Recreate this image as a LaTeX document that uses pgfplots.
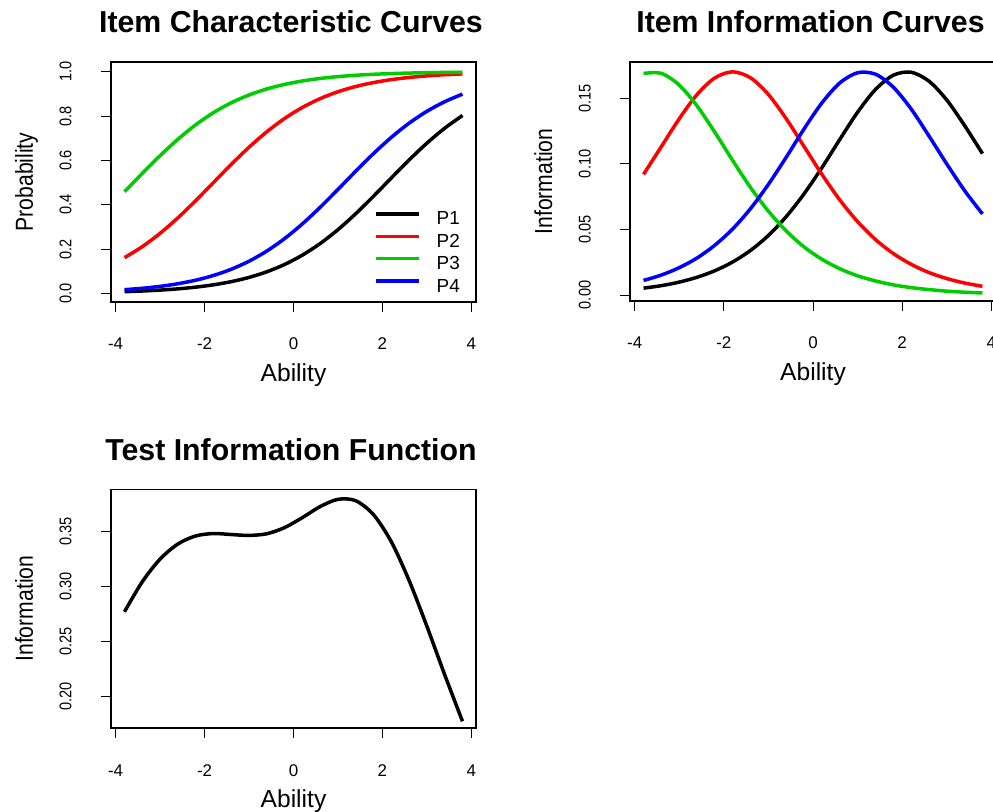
\documentclass[border=0pt]{standalone}
\usepackage{fontspec}
\setmainfont{Liberation Sans}
\usepackage{graphicx}
\usepackage{pgfplots}
\pgfplotsset{compat=1.18}
\usepackage{pgfplotstable}
\definecolor{rgreen}{RGB}{0,205,0}
\definecolor{rred}{RGB}{255,0,0}
\definecolor{rblue}{RGB}{0,0,255}

\pgfplotstableread{
t p1 p2 p3 p4
-3.8 0.0076 0.1611 0.4588 0.0166
-3.4 0.0106 0.2108 0.5412 0.0229
-3.0 0.0147 0.2709 0.6213 0.0315
-2.6 0.0203 0.3407 0.6953 0.0434
-2.2 0.0280 0.4182 0.7604 0.0593
-1.8 0.0385 0.5000 0.8153 0.0806
-1.4 0.0528 0.5818 0.8600 0.1087
-1.0 0.0719 0.6593 0.8952 0.1450
-0.6 0.0973 0.7291 0.9223 0.1909
-0.2 0.1304 0.7892 0.9429 0.2472
0.2 0.1725 0.8389 0.9583 0.3135
0.6 0.2248 0.8787 0.9697 0.3884
1.0 0.2875 0.9097 0.9780 0.4690
1.4 0.3595 0.9334 0.9841 0.5513
1.8 0.4384 0.9512 0.9885 0.6309
2.2 0.5207 0.9644 0.9917 0.7039
2.6 0.6018 0.9742 0.9940 0.7678
3.0 0.6777 0.9813 0.9957 0.8214
3.4 0.7452 0.9865 0.9969 0.8648
3.8 0.8026 0.9902 0.9978 0.8990
}\icc

\pgfplotstableread{
t i1 i2 i3 i4
-3.8 0.0052 0.0920 0.1690 0.0111
-3.4 0.0071 0.1132 0.1690 0.0152
-3.0 0.0098 0.1344 0.1601 0.0208
-2.6 0.0135 0.1529 0.1442 0.0282
-2.2 0.0185 0.1656 0.1240 0.0380
-1.8 0.0252 0.1702 0.1025 0.0504
-1.4 0.0340 0.1656 0.0819 0.0659
-1.0 0.0454 0.1529 0.0639 0.0844
-0.6 0.0598 0.1344 0.0488 0.1051
-0.2 0.0772 0.1132 0.0366 0.1267
0.2 0.0971 0.0920 0.0272 0.1465
0.6 0.1186 0.0725 0.0200 0.1617
1.0 0.1394 0.0559 0.0146 0.1695
1.4 0.1567 0.0423 0.0107 0.1684
1.8 0.1676 0.0316 0.0077 0.1585
2.2 0.1699 0.0234 0.0056 0.1419
2.6 0.1631 0.0171 0.0041 0.1213
3.0 0.1487 0.0125 0.0029 0.0999
3.4 0.1292 0.0091 0.0021 0.0796
3.8 0.1078 0.0066 0.0015 0.0618
}\iic

\pgfplotstableread{
t tif
-3.8 0.2773
-3.4 0.3045
-3.0 0.3251
-2.6 0.3388
-2.2 0.3461
-1.8 0.3483
-1.4 0.3474
-1.0 0.3466
-0.6 0.3481
-0.2 0.3537
0.2 0.3628
0.6 0.3728
1.0 0.3794
1.4 0.3781
1.8 0.3654
2.2 0.3408
2.6 0.3056
3.0 0.2640
3.4 0.2200
3.8 0.1777
}\tif

\newcommand{\cz}[1]{\scalebox{0.86}[1]{#1}}

\pgfplotsset{rbase/.style={
  scale only axis,
  xmin=-4.104, xmax=4.104,
  axis line style={black, line width=1.1bp},
  tick style={black, line width=0.9bp},
  tick align=outside, major tick length=10bp,
  xtick pos=bottom, ytick pos=left,
  xtick={-4,-2,0,2,4}, xticklabels={-4,-2,0,2,4},
  xticklabel style={anchor=base, yshift=-38bp, inner sep=0pt, font=\fontsize{17}{17}\selectfont},
  yticklabel style={xshift=-29.5bp, rotate=90, anchor=base, inner sep=0pt, font=\fontsize{17}{17}\selectfont},
  every axis x label/.style={at={([yshift=-79.5bp]axis description cs:0.5,0)}, anchor=base, inner sep=0pt, font=\fontsize{24.7}{25}\selectfont},
  every axis y label/.style={at={([xshift=-78bp]axis description cs:0,0.5)}, rotate=90, anchor=base, inner sep=0pt, font=\fontsize{24.7}{25}\selectfont},
  every axis title/.style={at={([xshift=-2.5bp,yshift=29bp]axis description cs:0.5,1)}, anchor=base, inner sep=0pt, font=\bfseries\fontsize{30.4}{31}\selectfont},
  every axis plot/.append style={line width=3.5bp, smooth, no markers},
}}

\begin{document}
\begin{tikzpicture}
\begin{axis}[rbase,
  at={(111bp,510bp)}, anchor=south west, width=365bp, height=240bp,
  ymin=-0.039, ymax=1.044,
  ytick={0,0.2,0.4,0.6,0.8,1.0}, yticklabels={\cz{0.0},\cz{0.2},\cz{0.4},\cz{0.6},\cz{0.8},\cz{1.0}},
  title={Item Characteristic Curves}, xlabel={Ability}, ylabel={\cz{Probability}},
  legend style={at={(0.7206,0.3804)}, anchor=north west, draw=none, fill=none, inner sep=0pt,
    row sep=4.4bp, column sep=16bp, font=\fontsize{19}{19}\selectfont,
    nodes={inner sep=0pt, text height=14bp, text depth=4bp}},
  legend image code/.code={\draw[#1] (0bp,6bp) -- (43bp,6bp);},
  legend cell align=left,
]
\addplot[black] table[x=t, y=p1] {\icc};
\addlegendentry{P1}
\addplot[rred] table[x=t, y=p2] {\icc};
\addlegendentry{P2}
\addplot[rgreen] table[x=t, y=p3] {\icc};
\addlegendentry{P3}
\addplot[rblue] table[x=t, y=p4] {\icc};
\addlegendentry{P4}
\end{axis}

\begin{axis}[rbase,
  at={(630bp,511bp)}, anchor=south west, width=366bp, height=239bp,
  ymin=-0.0046, ymax=0.1777,
  ytick={0,0.05,0.10,0.15}, yticklabels={\cz{0.00},\cz{0.05},\cz{0.10},\cz{0.15}},
  title={Item Information Curves}, xlabel={Ability}, ylabel={\cz{Information}},
]
\addplot[black] table[x=t, y=i1] {\iic};
\addplot[rred] table[x=t, y=i2] {\iic};
\addplot[rgreen] table[x=t, y=i3] {\iic};
\addplot[rblue] table[x=t, y=i4] {\iic};
\end{axis}

\begin{axis}[rbase,
  at={(111bp,84bp)}, anchor=south west, width=365bp, height=238.7bp,
  ymin=0.1716, ymax=0.3885,
  ytick={0.20,0.25,0.30,0.35}, yticklabels={\cz{0.20},\cz{0.25},\cz{0.30},\cz{0.35}},
  title={Test Information Function}, xlabel={Ability}, ylabel={\cz{Information}},
]
\addplot[black] table[x=t, y=tif] {\tif};
\end{axis}
\pgfresetboundingbox
\path[use as bounding box] (0,0) rectangle (993bp,812bp);
\end{tikzpicture}
\end{document}
